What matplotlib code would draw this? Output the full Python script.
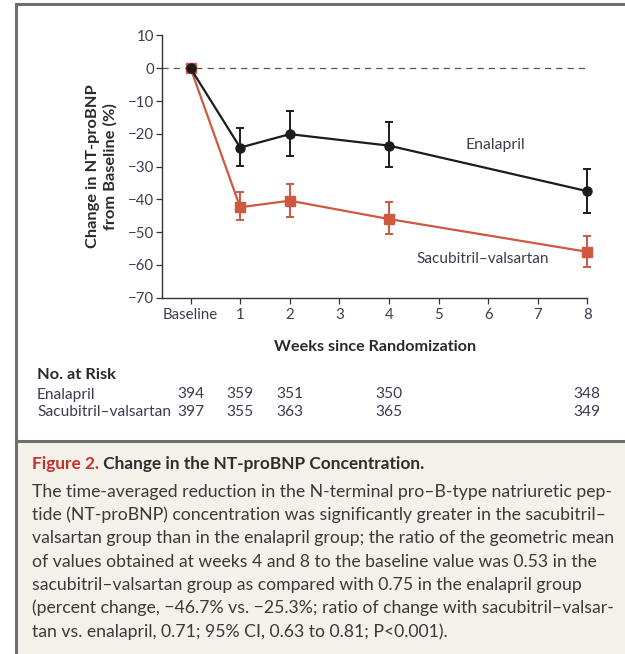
import matplotlib
matplotlib.use("Agg")
import matplotlib.pyplot as plt
from matplotlib.transforms import blended_transform_factory
from matplotlib.patches import Rectangle
from matplotlib.lines import Line2D

plt.rcParams['font.family'] = ['Lato', 'DejaVu Sans']

# data
weeks = [0, 1, 2, 4, 8]
tick_pos = [0, 1, 2, 3, 4, 5, 6, 7, 8]
tick_labels = ['Baseline', '1', '2', '3', '4', '5', '6', '7', '8']

enal = [0, -24.2, -20.1, -23.6, -37.5]
enal_hi = [0, -18.3, -12.9, -16.4, -30.7]
enal_lo = [0, -29.8, -26.7, -30.0, -44.1]

sacval = [0, -42.4, -40.4, -46.0, -56.0]
sacval_hi = [0, -37.7, -35.3, -40.9, -51.1]
sacval_lo = [0, -46.4, -45.3, -50.5, -60.6]

risk_groups = ['Enalapril', 'Sacubitril\u2013valsartan']
risk_enal = [394, 359, 351, 350, 348]
risk_sacval = [397, 355, 363, 365, 349]

yticks = [10, 0, -10, -20, -30, -40, -50, -60, -70]

caption_lines = [
    "The time-averaged reduction in the N-terminal pro\u2013B-type natriuretic pep-",
    "tide (NT-proBNP) concentration was significantly greater in the sacubitril\u2013",
    "valsartan group than in the enalapril group; the ratio of the geometric mean",
    "of values obtained at weeks 4 and 8 to the baseline value was 0.53 in the",
    "sacubitril\u2013valsartan group as compared with 0.75 in the enalapril group",
    "(percent change, \u221246.7% vs. \u221225.3%; ratio of change with sacubitril\u2013valsar-",
    "tan vs. enalapril, 0.71; 95% CI, 0.63 to 0.81; P<0.001).",
]

W, H = 625, 654
fig = plt.figure(figsize=(W / 100, H / 100), dpi=100)

def fx(px):
    return px / W

def fy(py):
    return 1 - py / H

# frame and caption background
fig.patches.append(Rectangle((fx(16), 0), 1 - fx(16), fy(441), transform=fig.transFigure,
                             facecolor='#f4f0ea', edgecolor='none', zorder=0))
fig.lines.append(Line2D([fx(16), fx(16)], [0, fy(4)], transform=fig.transFigure, color='#6e6e6e', lw=2.2))
fig.lines.append(Line2D([fx(16), 1], [fy(4), fy(4)], transform=fig.transFigure, color='#6e6e6e', lw=2.2))
fig.lines.append(Line2D([fx(16), 1], [fy(441), fy(441)], transform=fig.transFigure, color='#6e6e6e', lw=2.2))

ax = fig.add_axes([fx(162.3), fy(297.7), fx(587.3 - 162.3), (297.7 - 35.5) / H])
ax.set_xlim(-0.57, 8)
ax.set_ylim(-70, 10)

txt = '#3b3d4f'
red = '#cf5840'

ax.axhline(0, color='#555555', lw=0.9, ls=(0, (5, 4)), zorder=1)

ax.errorbar(weeks, sacval,
            yerr=[[v - lo for v, lo in zip(sacval, sacval_lo)], [hi - v for v, hi in zip(sacval, sacval_hi)]],
            color=red, lw=1.6, marker='s', ms=7.5, capsize=3, elinewidth=1.4, capthick=1.4,
            clip_on=False, zorder=3)
ax.errorbar(weeks, enal,
            yerr=[[v - lo for v, lo in zip(enal, enal_lo)], [hi - v for v, hi in zip(enal, enal_hi)]],
            color='#1c1c1c', lw=1.6, marker='o', ms=6.5, capsize=3, elinewidth=1.4, capthick=1.4,
            clip_on=False, zorder=4)

ax.text(6.15, -23.4, 'Enalapril', color=txt, fontsize=11.3, ha='center', va='center')
ax.text(5.9, -58.3, 'Sacubitril\u2013valsartan', color=txt, fontsize=11.1, ha='center', va='center')

for s in ['top', 'right']:
    ax.spines[s].set_visible(False)
for s in ['left', 'bottom']:
    ax.spines[s].set_color('#333333')
    ax.spines[s].set_linewidth(1.0)

ax.set_yticks(yticks)
ax.set_yticklabels([str(v).replace('-', '\u2212') for v in yticks])
ax.set_xticks(tick_pos)
ax.set_xticklabels(tick_labels)
ax.tick_params(axis='both', colors='#333333', labelcolor=txt, labelsize=10.8, length=4, width=0.9)
ax.tick_params(axis='y', pad=2)

ax.set_ylabel('Change in NT-proBNP\nfrom Baseline (%)', fontsize=11.8, fontweight='bold',
              color='#2a2a2a', linespacing=1.3, labelpad=7)
ax.set_xlabel('Weeks since Randomization', fontsize=11.6, fontweight='bold', color='#2a2a2a', labelpad=13)

# numbers at risk
bt = blended_transform_factory(ax.transData, fig.transFigure)
fig.text(fx(37), fy(375), 'No. at Risk', fontsize=11.8, fontweight='bold', color='#2a2a2a', va='center')
for row, (name, counts) in enumerate(zip(risk_groups, [risk_enal, risk_sacval])):
    yy = fy(394.5 + 18 * row)
    fig.text(fx(37), yy, name, fontsize=11.2, color=txt, va='center')
    for wk, n in zip(weeks, counts):
        fig.text(wk, yy, str(n), fontsize=11.2, color=txt, va='center', ha='center', transform=bt)

# caption
t1 = fig.text(fx(32), fy(464), 'Figure 2.', fontsize=12.4, fontweight='bold', color='#c4302e', va='center')
fig.canvas.draw()
bb = t1.get_window_extent()
fig.text(bb.x1 / W, fy(464), ' Change in the NT-proBNP Concentration.', va='center',
         fontsize=12.4, fontweight='bold', color='#2e2e2e')
for i, line in enumerate(caption_lines):
    fig.text(fx(32), fy(491.7 + 23.3 * i), line, fontsize=12.7, color='#3a3a3a', va='center')

fig.savefig('out.png', dpi=100)
